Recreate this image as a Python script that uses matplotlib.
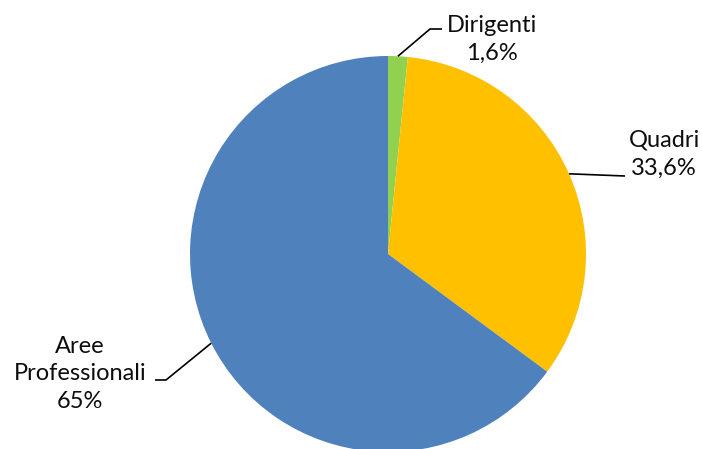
import numpy as np
import matplotlib
matplotlib.use('Agg')
import matplotlib.pyplot as plt

# Personale per categoria
labels = ['Dirigenti', 'Quadri', 'Aree\nProfessionali']
shares = [1.6, 33.6, 65.0]
share_text = ['1,6%', '33,6%', '65%']
colors = ['#92D050', '#FFC000', '#4F81BD']

plt.rcParams['font.family'] = ['Lato', 'DejaVu Sans']

W, H = 702, 449
fig = plt.figure(figsize=(W / 100, H / 100), dpi=100)
ax = fig.add_axes([0, 0, 1, 1])

cx, cy, r = 388, H - 254, 198
wedges, _ = ax.pie(shares, colors=colors, startangle=90, counterclock=False,
                   center=(cx, cy), radius=r, frame=True,
                   wedgeprops=dict(linewidth=0))
ax.set_xlim(0, W)
ax.set_ylim(0, H)
ax.set_aspect('equal')
ax.axis('off')

# leader line elbows and label centres (pixel coords, y from top)
layout = [
    dict(path=[(430, 29), (442, 29)], text=(492, 39)),
    dict(path=[(625, 176)], text=(664, 154)),
    dict(path=[(166, 380), (155, 380)], text=(80, 374)),
]

for w, lab, pct, lay in zip(wedges, labels, share_text, layout):
    mid = np.deg2rad((w.theta1 + w.theta2) / 2)
    ax_pt = (cx + r * np.cos(mid), cy + r * np.sin(mid))
    xs = [ax_pt[0]] + [p[0] for p in lay['path']]
    ys = [ax_pt[1]] + [H - p[1] for p in lay['path']]
    ax.plot(xs, ys, color='black', linewidth=1.2, solid_capstyle='butt')
    tx, ty = lay['text']
    ax.text(tx, H - ty, lab + '\n' + pct, ha='center', va='center',
            fontsize=17, linespacing=1.4, color='#0d0d0d')

fig.savefig('out.png', dpi=100)
